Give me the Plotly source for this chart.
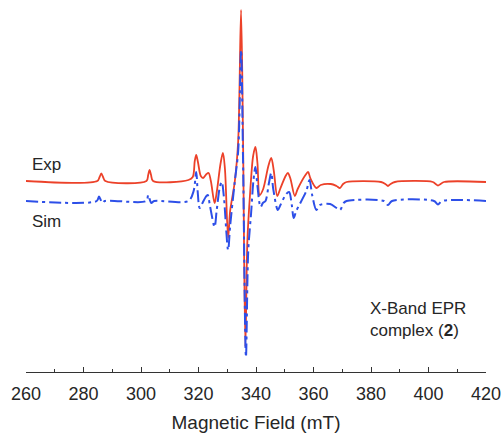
import plotly.graph_objects as go

# Magnetic field (mT) and derivative intensity (arb. units, relative to each trace's baseline)
exp_field = [260.0, 284.8, 285.6, 286.2, 286.8, 287.6,
             301.9, 302.5, 303.0, 303.5, 304.2,
             316.5, 318.0, 318.7, 319.2, 319.8, 320.8, 321.6, 322.8, 323.5, 324.3,
             325.6, 326.4, 327.7, 328.5, 329.2, 330.3, 331.0, 332.6, 333.8, 334.8,
             335.5, 336.3, 337.0, 338.0, 339.0, 339.8, 340.5, 341.3, 342.5, 344.3,
             345.3, 346.2, 347.4, 348.4, 350.3, 351.1, 352.0, 353.5, 354.5, 357.2,
             358.1, 359.0, 361.0, 362.5, 366.0, 368.0, 369.2, 370.3, 371.5, 383.5,
             385.0, 385.9, 386.8, 388.3, 401.5, 402.5, 403.3, 404.2, 405.4, 420.0]
exp_signal = [0, 0, 4, 7.5, 4, 0,
              0, 6, 11, 6, 0,
              1, 4, 20, 26, 19, 5, 3, 7, 8, 0,
              -22, -10, 18, 28, 12, -57, -30, -1, 40, 171,
              40, -166, -60, -10, 25, 34, 18, -14, -8, 15,
              23, 10, -15, -8, 5, 8, 2, -15, -8, 6,
              9, 2, -7, -4, -3, -5, -7, -3, -1, -1,
              -3, -5, -3, -1, -1, -3, -4.5, -3, -1, -1]

sim_field = [260.0, 284.6, 285.4, 286.0, 286.6, 287.4,
             301.8, 302.5, 303.1, 303.6, 304.6,
             316.5, 318.3, 319.2, 319.7, 320.4, 321.2, 322.5, 323.2, 324.0, 325.6,
             326.3, 327.5, 328.1, 328.8, 330.3, 331.0, 332.6, 333.8, 334.8, 335.5,
             336.5, 337.3, 338.3, 339.1, 339.8, 340.5, 341.6, 342.4, 343.3, 344.5,
             345.3, 346.0, 347.6, 348.5, 350.5, 351.5, 352.5, 353.1, 354.0, 357.5,
             358.6, 359.6, 361.0, 362.2, 365.8, 368.0, 369.2, 370.5, 371.5, 384.5,
             385.9, 387.3, 401.9, 403.3, 404.7, 420.0]
sim_signal = [0, 0, 4.5, 1, -2, 0,
              0, 6, 1, -2, 0,
              0, 10, 29, 10, -7, -3, 4, 6, -5, -26,
              -10, 15, 19, 5, -49, -25, 19, 50, 151, 40,
              -156, -50, -12, 20, 34, 15, -6, -2, 0, 18,
              28, 12, -9, -4, 7, 9, -5, -17, -10, 10,
              21, 5, -9, -4, -3, -7, -9, -2, 0, 0,
              -4, 0, 0, -3.5, 0, 0]

exp_offset = 0
sim_offset = -20

x_range = [260, 420]
y_range = [-191, 181]
x_ticks = [260, 280, 300, 320, 340, 360, 380, 400, 420]

RED = "#ec4129"
BLUE = "#2d4fe8"
FONT = "Liberation Sans, Arial, sans-serif"
TEXT = "#262626"

fig = go.Figure()
fig.add_trace(go.Scatter(
    x=exp_field, y=[v + exp_offset for v in exp_signal], mode="lines",
    line=dict(color=RED, width=1.8, shape="spline", smoothing=0.9),
    showlegend=False, hoverinfo="skip"))
fig.add_trace(go.Scatter(
    x=sim_field, y=[v + sim_offset for v in sim_signal], mode="lines",
    line=dict(color=BLUE, width=2, shape="spline", smoothing=0.9, dash="12px,4px,3px,4px"),
    showlegend=False, hoverinfo="skip"))

fig.add_annotation(x=267.2, y=17, xref="x", yref="y", text="Exp", showarrow=False,
                   font=dict(family=FONT, size=17, color=TEXT), xanchor="center", yanchor="middle")
fig.add_annotation(x=267.2, y=-40, xref="x", yref="y", text="Sim", showarrow=False,
                   font=dict(family=FONT, size=17, color=TEXT), xanchor="center", yanchor="middle")
fig.add_annotation(x=379, y=-138.5, xref="x", yref="y", text="X-Band EPR<br>complex (<b>2</b>)",
                   showarrow=False, align="left",
                   font=dict(family=FONT, size=17, color=TEXT), xanchor="left", yanchor="middle")

fig.update_layout(
    width=503, height=433,
    margin=dict(l=26, r=17, t=0, b=61, autoexpand=False),
    paper_bgcolor="white", plot_bgcolor="white",
    font=dict(family=FONT, color=TEXT),
    xaxis=dict(range=x_range, tickvals=x_ticks, showline=True, linecolor="#333333", linewidth=1.3,
               ticks="inside", ticklen=5, tickwidth=1.2, tickcolor="#333333", automargin=False,
               ticklabelstandoff=5,
               minor=dict(dtick=10, ticks="inside", ticklen=2.5, tickwidth=1.2, tickcolor="#333333"),
               showgrid=False, zeroline=False, tickfont=dict(family=FONT, size=18, color=TEXT),
               title=dict(text="Magnetic Field (mT)", font=dict(family=FONT, size=19, color=TEXT), standoff=13)),
    yaxis=dict(range=y_range, visible=False, showgrid=False, zeroline=False, automargin=False),
)

fig.write_html("out.html", config={"displayModeBar": False},
               post_script="document.body.style.margin='0';document.body.style.overflow='hidden';")
